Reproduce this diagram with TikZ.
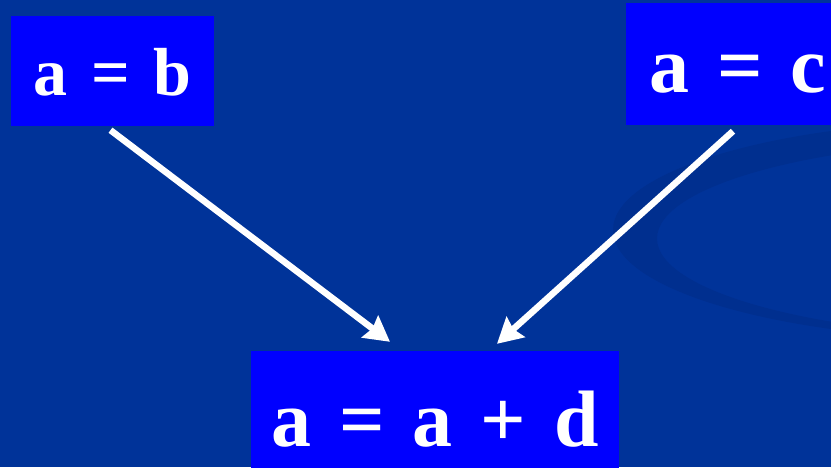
\documentclass[tikz,border=0pt]{standalone}
\usepackage{fontspec}
\setmainfont{Liberation Serif}[WordSpace=1.4]
\usetikzlibrary{arrows.meta,calc}
\definecolor{bgblue}{RGB}{0,51,153}
\definecolor{ringblue}{RGB}{0,47,143}
\definecolor{boxblue}{RGB}{0,0,255}
\tikzset{
  eqbox/.style={fill=boxblue, draw=none, text=white, inner sep=0pt,
    text depth=0pt, align=center},
  flow/.style={draw=white, line width=6.5pt,
    -{Stealth[length=25pt,width=27pt,inset=3pt]}}
}
\begin{document}
\begin{tikzpicture}[x=1pt,y=-1pt]
\useasboundingbox (0,0) rectangle (831,467);
\fill[bgblue] (0,0) rectangle (831,467);
% faint swoosh
\begin{scope}
\clip (0,0) rectangle (831,467);
\fill[ringblue, even odd rule] (1000,230) ellipse [x radius=387, y radius=110]
  (1037,238.5) ellipse [x radius=380, y radius=99];
\end{scope}
\node[eqbox, minimum width=203, minimum height=110, text height=48pt,
  font=\bfseries\fontsize{68}{80}\selectfont]
  (b1) at (112.5,71) {a = b};
\node[eqbox, minimum width=224, minimum height=122, text height=56pt,
  font=\bfseries\fontsize{80}{92}\selectfont]
  (b2) at (738,64) {a = c};
\node[eqbox, minimum width=368, minimum height=132, text height=58pt,
  font=\bfseries\fontsize{80}{92}\selectfont]
  (b3) at (435,417) {a = a + d};
\draw[flow] ($(b1.south)+(-2,4)$) -- ($(b3.north)+(-45,-9)$);
\draw[flow] ($(b2.south)+(-5,6)$) -- ($(b3.north)+(62,-7)$);
\end{tikzpicture}
\end{document}
